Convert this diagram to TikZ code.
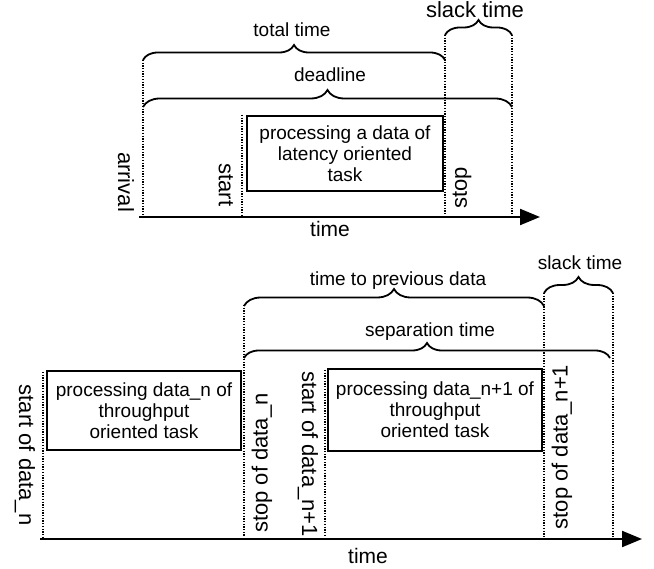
\documentclass[tikz,border=0pt]{standalone}
\usepackage{fontspec}
\setmainfont{Liberation Sans}
\usetikzlibrary{arrows.meta,decorations.pathreplacing}
\begin{document}
\begin{tikzpicture}[x=1pt,y=-1pt,
  guide/.style={line width=1.4pt, dash pattern=on 1.3pt off 1.4pt},
  brc/.style={decorate, decoration={brace, amplitude=#1}, line width=1.8pt},
  axis/.style={line width=2.2pt, -{Triangle[length=20pt,width=16pt]}},
  taskbox/.style={draw, line width=2pt, inner sep=0pt, align=center,
    font=\fontsize{19}{21}\selectfont},
  lbl/.style={inner sep=0pt, anchor=base, font=\fontsize{19}{21}\selectfont},
  vlbl/.style={inner sep=0pt, font=\fontsize{22}{24}\selectfont}]
\useasboundingbox (0,0) rectangle (654,569);

% ---------------- top diagram ----------------
\coordinate (t0) at (139,217);
\coordinate (t1) at (540,217);
\draw[axis] (t0) -- (t1);
\node[lbl, font=\fontsize{21}{23}\selectfont] (ttime) at (330,237) {time};

\coordinate (arrT) at (143,60);   \coordinate (arrB) at (143,215);
\coordinate (stT) at (242,115);   \coordinate (stB) at (242,215);
\coordinate (spT) at (445,35);    \coordinate (spB) at (445,215);
\coordinate (dlT) at (512,35);    \coordinate (dlB) at (512,215);
\draw[guide] (arrT) -- (arrB);
\draw[guide] (stT) -- (stB);
\draw[guide] (spT) -- (spB);
\draw[guide] (dlT) -- (dlB);

\node[taskbox, minimum width=196pt, minimum height=75pt] (tbox) at (345,153.5)
  {processing a data of\\latency oriented\\task};

\coordinate (totL) at (143,60);  \coordinate (totR) at (445,60);
\draw[brc=15pt] (totL) -- (totR);
\node[lbl] (ltot) at (292,37) {total time};

\coordinate (dlL) at (143,107);  \coordinate (dlR) at (512,107);
\draw[brc=17pt] (dlL) -- (dlR);
\node[lbl] (ldl) at (330,82) {deadline};

\draw[brc=15pt] (spT) -- (dlT);
\node[lbl, font=\fontsize{22}{24}\selectfont] (lsl1) at (475,18) {slack time};

\node[vlbl, rotate=-90] (larr) at (126,182) {arrival};
\node[vlbl, rotate=-90] (lst) at (226,185) {start};
\node[vlbl, rotate=90] (lsp) at (462,188) {stop};

% ---------------- bottom diagram ----------------
\coordinate (b0) at (40,539);
\coordinate (b1) at (642,539);
\draw[axis] (b0) -- (b1);
\node[lbl, font=\fontsize{21}{23}\selectfont] (btime) at (368,563) {time};

\coordinate (s1T) at (43,372);   \coordinate (s1B) at (43,537);
\coordinate (e1T) at (244,305);  \coordinate (e1B) at (244,537);
\coordinate (s2T) at (325,370);  \coordinate (s2B) at (325,537);
\coordinate (e2T) at (544,293);  \coordinate (e2B) at (544,537);
\coordinate (rT) at (613,293);   \coordinate (rB) at (613,537);
\draw[guide] (s1T) -- (s1B);
\draw[guide] (e1T) -- (e1B);
\draw[guide] (s2T) -- (s2B);
\draw[guide] (e2T) -- (e2B);
\draw[guide] (rT) -- (rB);

\node[taskbox, minimum width=194pt, minimum height=79pt] (box1) at (144,410.5)
  {processing data\_n of\\throughput\\oriented task};
\node[taskbox, minimum width=214pt, minimum height=82pt] (box2) at (435,410)
  {processing data\_n+1 of\\throughput\\oriented task};

\coordinate (tpL) at (244,306);  \coordinate (tpR) at (544,306);
\draw[brc=17pt] (tpL) -- (tpR);
\node[lbl] (ltp) at (398,286) {time to previous data};

\coordinate (sepL) at (244,358);  \coordinate (sepR) at (610,358);
\draw[brc=15pt] (sepL) -- (sepR);
\node[lbl] (lsep) at (430,337) {separation time};

\draw[brc=16pt] (e2T) -- (rT);
\node[lbl] (lsl2) at (580,270) {slack time};

\node[vlbl, rotate=-90] (ls1) at (25,455) {start of data\_n};
\node[vlbl, rotate=90] (le1) at (262,463) {stop of data\_n};
\node[vlbl, rotate=-90] (ls2) at (308,454) {start of data\_n+1};
\node[vlbl, rotate=90] (le2) at (562,447) {stop of data\_n+1};
\end{tikzpicture}
\end{document}
